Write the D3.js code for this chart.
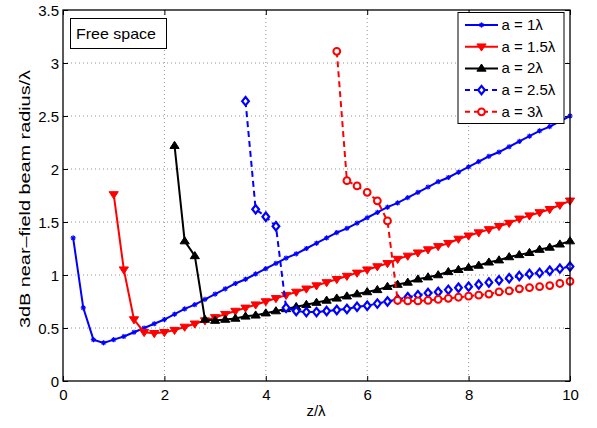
<!DOCTYPE html>
<html><head><meta charset="utf-8">
<script src="https://cdn.jsdelivr.net/npm/d3@7"></script>
<style>body{margin:0;background:#fff}svg{display:block}text{font-family:"Liberation Sans",Arial,sans-serif}</style>
</head><body><div id="c"></div>
<script>
const xTicks = [0, 2, 4, 6, 8, 10];
const yTicks = [0, 0.5, 1, 1.5, 2, 2.5, 3, 3.5];
const yTickLabels = ["0", "0.5", "1", "1.5", "2", "2.5", "3", "3.5"];

const zA1 = [0.2,0.4,0.6,0.8,1.0,1.2,1.4,1.6,1.8,2.0,2.2,2.4,2.6,2.8,3.0,3.2,3.4,3.6,3.8,4.0,4.2,4.4,4.6,4.8,5.0,5.2,5.4,5.6,5.8,6.0,6.2,6.4,6.6,6.8,7.0,7.2,7.4,7.6,7.8,8.0,8.2,8.4,8.6,8.8,9.0,9.2,9.4,9.6,9.8,10];
const rA1 = [1.35,0.69,0.39,0.36,0.39,0.42,0.46,0.50,0.54,0.58,0.63,0.68,0.72,0.77,0.82,0.87,0.92,0.96,1.01,1.06,1.11,1.16,1.20,1.25,1.30,1.35,1.40,1.44,1.49,1.54,1.59,1.64,1.68,1.73,1.78,1.83,1.88,1.92,1.97,2.02,2.07,2.12,2.16,2.21,2.26,2.31,2.36,2.40,2.45,2.50];

const zA15 = [1.0,1.2,1.4,1.6,1.8,2.0,2.2,2.4,2.6,2.8,3.0,3.2,3.4,3.6,3.8,4.0,4.2,4.4,4.6,4.8,5.0,5.2,5.4,5.6,5.8,6.0,6.2,6.4,6.6,6.8,7.0,7.2,7.4,7.6,7.8,8.0,8.2,8.4,8.6,8.8,9.0,9.2,9.4,9.6,9.8,10];
const rA15 = [1.76,1.05,0.58,0.46,0.45,0.46,0.48,0.51,0.54,0.57,0.60,0.63,0.66,0.69,0.72,0.75,0.78,0.81,0.84,0.87,0.90,0.93,0.96,0.99,1.02,1.05,1.08,1.11,1.15,1.18,1.21,1.24,1.27,1.30,1.34,1.37,1.40,1.43,1.46,1.49,1.53,1.56,1.59,1.62,1.66,1.70];

const zA2 = [2.2,2.4,2.6,2.8,3.0,3.2,3.4,3.6,3.8,4.0,4.2,4.4,4.6,4.8,5.0,5.2,5.4,5.6,5.8,6.0,6.2,6.4,6.6,6.8,7.0,7.2,7.4,7.6,7.8,8.0,8.2,8.4,8.6,8.8,9.0,9.2,9.4,9.6,9.8,10];
const rA2 = [2.22,1.32,1.18,0.58,0.57,0.58,0.59,0.61,0.62,0.64,0.66,0.68,0.70,0.72,0.74,0.76,0.78,0.80,0.82,0.84,0.86,0.89,0.91,0.93,0.96,0.98,1.00,1.03,1.05,1.07,1.09,1.12,1.14,1.17,1.19,1.21,1.24,1.26,1.29,1.32];

const zA25 = [3.6,3.8,4.0,4.2,4.4,4.6,4.8,5.0,5.2,5.4,5.6,5.8,6.0,6.2,6.4,6.6,6.8,7.0,7.2,7.4,7.6,7.8,8.0,8.2,8.4,8.6,8.8,9.0,9.2,9.4,9.6,9.8,10];
const rA25 = [2.64,1.62,1.55,1.46,0.69,0.66,0.65,0.65,0.66,0.67,0.68,0.70,0.71,0.73,0.75,0.77,0.79,0.81,0.83,0.84,0.86,0.88,0.89,0.91,0.93,0.95,0.97,0.99,1.01,1.02,1.04,1.06,1.08];

const zA3 = [5.4,5.6,5.8,6.0,6.2,6.4,6.6,6.8,7.0,7.2,7.4,7.6,7.8,8.0,8.2,8.4,8.6,8.8,9.0,9.2,9.4,9.6,9.8,10];
const rA3 = [3.11,1.89,1.84,1.78,1.70,1.51,0.76,0.755,0.755,0.76,0.77,0.78,0.79,0.80,0.81,0.82,0.84,0.85,0.87,0.88,0.89,0.90,0.92,0.94];

const seriesNames = ["a = 1\u03bb", "a = 1.5\u03bb", "a = 2\u03bb", "a = 2.5\u03bb", "a = 3\u03bb"];
const series = [
  {name: seriesNames[0], z: zA1, r: rA1, color: "#0000ff", dash: null, marker: "star"},
  {name: seriesNames[1], z: zA15, r: rA15, color: "#ff0000", dash: null, marker: "tridown"},
  {name: seriesNames[2], z: zA2, r: rA2, color: "#000000", dash: null, marker: "triup"},
  {name: seriesNames[3], z: zA25, r: rA25, color: "#0000ff", dash: "6,4", marker: "diamond"},
  {name: seriesNames[4], z: zA3, r: rA3, color: "#ff0000", dash: "6,4", marker: "circle"}
];

const W = 597, H = 428;
const L = 63, R = 570, T = 10, B = 381;
const FS = 15;
const svg = d3.select("#c").append("svg").attr("width", W).attr("height", H);
const x = d3.scaleLinear().domain([0, 10]).range([L, R]);
const y = d3.scaleLinear().domain([0, 3.5]).range([B, T]);

// grid
const g = svg.append("g");
xTicks.slice(1, -1).forEach(t => g.append("line").attr("x1", x(t)).attr("x2", x(t)).attr("y1", T).attr("y2", B)
  .attr("stroke", "#777").attr("stroke-width", 0.8).attr("stroke-dasharray", "1,3"));
yTicks.slice(1, -1).forEach(t => g.append("line").attr("x1", L).attr("x2", R).attr("y1", y(t)).attr("y2", y(t))
  .attr("stroke", "#777").attr("stroke-width", 0.8).attr("stroke-dasharray", "1,3"));

// axes
const xAx = svg.append("g").attr("transform", `translate(0,${B})`)
  .call(d3.axisBottom(x).tickValues(xTicks).tickSize(-5).tickPadding(8).tickFormat(d3.format("d")));
const xAxTop = svg.append("g").attr("transform", `translate(0,${T})`)
  .call(d3.axisTop(x).tickValues(xTicks).tickSize(-5).tickFormat(""));
const yAx = svg.append("g").attr("transform", `translate(${L},0)`)
  .call(d3.axisLeft(y).tickValues(yTicks).tickSize(-5).tickPadding(4).tickFormat((d, i) => yTickLabels[i]));
const yAxR = svg.append("g").attr("transform", `translate(${R},0)`)
  .call(d3.axisRight(y).tickValues(yTicks).tickSize(-5).tickFormat(""));
[xAx, xAxTop, yAx, yAxR].forEach(a => {
  a.select(".domain").remove();
  a.selectAll(".tick line").attr("stroke", "#000").attr("stroke-width", 1);
  a.selectAll("text").attr("font-size", FS).attr("fill", "#000").attr("font-family", "Liberation Sans, Arial, sans-serif");
});
yAx.selectAll("text").attr("dy", "0.34em");

// markers
function drawMarker(sel, type, color, cx, cy) {
  if (type === "star") {
    const s = 2.6;
    const p = sel.append("g").attr("transform", `translate(${cx},${cy})`);
    p.append("line").attr("x1", -s).attr("x2", s).attr("y1", 0).attr("y2", 0).attr("stroke", color).attr("stroke-width", 1.2);
    p.append("line").attr("x1", 0).attr("x2", 0).attr("y1", -s).attr("y2", s).attr("stroke", color).attr("stroke-width", 1.2);
    p.append("line").attr("x1", -s*0.7).attr("x2", s*0.7).attr("y1", -s*0.7).attr("y2", s*0.7).attr("stroke", color).attr("stroke-width", 1.2);
    p.append("line").attr("x1", -s*0.7).attr("x2", s*0.7).attr("y1", s*0.7).attr("y2", -s*0.7).attr("stroke", color).attr("stroke-width", 1.2);
  } else if (type === "tridown") {
    const s = 4.6;
    sel.append("path").attr("d", `M${cx-s},${cy-s*0.6}L${cx+s},${cy-s*0.6}L${cx},${cy+s*0.95}Z`)
      .attr("fill", color).attr("stroke", color).attr("stroke-width", 1);
  } else if (type === "triup") {
    const s = 4.6;
    sel.append("path").attr("d", `M${cx-s},${cy+s*0.6}L${cx+s},${cy+s*0.6}L${cx},${cy-s*0.95}Z`)
      .attr("fill", color).attr("stroke", color).attr("stroke-width", 1);
  } else if (type === "diamond") {
    const s = 4.2;
    sel.append("path").attr("d", `M${cx},${cy-s}L${cx+s*0.8},${cy}L${cx},${cy+s}L${cx-s*0.8},${cy}Z`)
      .attr("fill", "#fff").attr("stroke", color).attr("stroke-width", 2.2);
  } else if (type === "circle") {
    sel.append("circle").attr("cx", cx).attr("cy", cy).attr("r", 3.4)
      .attr("fill", "#fff").attr("stroke", color).attr("stroke-width", 2);
  }
}

const line = d3.line().x(d => x(d[0])).y(d => y(d[1]));
series.forEach(s => {
  const pts = s.z.map((z, i) => [z, s.r[i]]);
  const gg = svg.append("g");
  gg.append("path").attr("d", line(pts)).attr("fill", "none").attr("stroke", s.color)
    .attr("stroke-width", 2).attr("stroke-dasharray", s.dash);
  pts.forEach(p => drawMarker(gg, s.marker, s.color, x(p[0]), y(p[1])));
});

// frame
svg.append("rect").attr("x", L).attr("y", T).attr("width", R - L).attr("height", B - T)
  .attr("fill", "none").attr("stroke", "#000").attr("stroke-width", 1.3);

// Free space box
svg.append("rect").attr("x", 70.5).attr("y", 18.5).attr("width", 96).attr("height", 30)
  .attr("fill", "#fff").attr("stroke", "#000").attr("stroke-width", 1);
svg.append("text").attr("x", 76).attr("y", 39).attr("font-size", FS).attr("textLength", 80).attr("lengthAdjust", "spacingAndGlyphs").text("Free space");

// legend
const lg = svg.append("g");
lg.append("rect").attr("x", 458).attr("y", 12.5).attr("width", 106).attr("height", 111)
  .attr("fill", "#fff").attr("stroke", "#000").attr("stroke-width", 1);
series.forEach((s, i) => {
  const yy = 25 + i * 21.7;
  lg.append("line").attr("x1", 465).attr("x2", 498).attr("y1", yy).attr("y2", yy)
    .attr("stroke", s.color).attr("stroke-width", 2).attr("stroke-dasharray", s.dash ? "5,4" : null);
  drawMarker(lg, s.marker, s.color, 481.5, yy);
  lg.append("text").attr("x", 501.5).attr("y", yy + 5).attr("font-size", FS).text(s.name);
});

// axis titles
svg.append("text").attr("x", 316).attr("y", 416).attr("text-anchor", "middle").attr("font-size", FS).text("z/\u03bb");
svg.append("text").attr("transform", "translate(30,199) rotate(-90)").attr("text-anchor", "middle")
  .attr("font-size", FS).attr("textLength", 258).attr("lengthAdjust", "spacingAndGlyphs")
  .text("3dB near\u2013field beam radius/\u03bb");
</script></body></html>
